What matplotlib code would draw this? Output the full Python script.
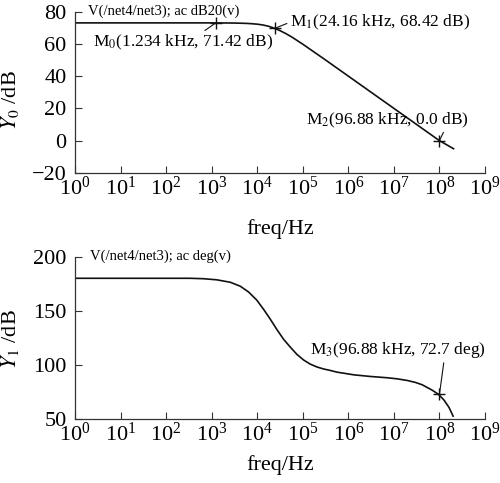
import numpy as np
import matplotlib
matplotlib.use("Agg")
import matplotlib.pyplot as plt
from matplotlib.ticker import LogFormatterMathtext, FixedLocator

# =====================================
# Data
# =====================================

# magnitude curve : decade exponent of freq, gain in dB
mag_exp = [0, 1, 2, 3, 3.5, 3.75, 3.875, 4.0, 4.125, 4.25, 4.375, 4.5,
           4.625, 4.75, 4.875, 5.0, 5.25, 5.5, 5.75, 6.0, 6.5, 7.0, 7.5,
           8.0, 8.31]
gain_db = [73.0, 73.0, 73.0, 73.0, 72.9, 72.7, 72.5, 72.2, 71.7, 70.9,
           69.7, 68.2, 66.4, 64.4, 62.1, 59.8, 54.9, 50.0, 45.0, 40.0,
           30.0, 20.0, 10.0, 0.0, -5.0]

# phase curve : decade exponent of freq, phase in deg
ph_exp = [0, 1, 2, 2.53, 2.82, 3.11, 3.41, 3.63, 3.81, 3.99, 4.14, 4.29,
          4.43, 4.58, 4.73, 4.87, 5.02, 5.16, 5.31, 5.46, 5.60, 5.75,
          6.12, 6.48, 6.85, 7.07, 7.29, 7.47, 7.62, 7.73, 7.84, 7.98,
          8.10, 8.21, 8.30]
phase_deg = [180.0, 180.0, 180.0, 180.0, 179.6, 178.6, 176.3, 172.6,
             167.3, 159.8, 151.2, 141.9, 132.6, 123.4, 116.0, 109.5,
             104.2, 100.5, 97.8, 95.9, 94.6, 93.0, 90.5, 89.0, 87.8,
             86.8, 85.3, 83.5, 81.3, 78.8, 76.3, 72.4, 67.1, 60.3, 52.2]

freq_mag = 10.0 ** np.array(mag_exp)
freq_ph = 10.0 ** np.array(ph_exp)

# markers (freq in Hz, value)
m0 = (1234, 73.0)
m1 = (24160, 69.6)
m2 = (1e8, 0.0)
m3 = (1e8, 72.4)

m_labels = [r"M$_0$(1.234 kHz, 71.42 dB)",
            r"M$_1$(24.16 kHz, 68.42 dB)",
            r"M$_2$(96.88 kHz, 0.0 dB)",
            r"M$_3$(96.88 kHz, 72.7 deg)"]

top_title = "V(/net4/net3); ac dB20(v)"
bot_title = "V(/net4/net3); ac deg(v)"

x_ticks = [10.0 ** k for k in range(10)]
y_ticks_top = [-20, 0, 20, 40, 60, 80]
y_ticks_bot = [50, 100, 150, 200]

# =====================================
# Style
# =====================================

plt.rcParams["font.family"] = ["Liberation Serif", "DejaVu Serif"]
plt.rcParams["mathtext.fontset"] = "stix"
plt.rcParams["axes.unicode_minus"] = True

line_c = "#111111"
spine_c = "#333333"

fig = plt.figure(figsize=(5.0, 4.83), dpi=100)
ax1 = fig.add_axes([0.150, 0.642, 0.820, 0.334])
ax2 = fig.add_axes([0.150, 0.1335, 0.820, 0.335])


def style_axes(ax, yticks, ylim):
    ax.set_xscale("log")
    ax.set_xlim(1e0, 1e9)
    ax.set_ylim(*ylim)
    ax.xaxis.set_major_locator(FixedLocator(x_ticks))
    ax.xaxis.set_minor_locator(FixedLocator([]))
    ax.xaxis.set_major_formatter(LogFormatterMathtext())
    ax.set_yticks(yticks)
    for s in ["top", "right"]:
        ax.spines[s].set_visible(False)
    for s in ["left", "bottom"]:
        ax.spines[s].set_color(spine_c)
        ax.spines[s].set_linewidth(0.9)
    ax.tick_params(axis="both", direction="in", length=5, width=0.8,
                   color=spine_c, labelsize=16)
    ax.tick_params(axis="x", pad=3)
    ax.tick_params(axis="y", pad=6)


def marker_note(ax, xy, label, offset, relpos):
    ax.annotate(label, xy=xy, xytext=offset, textcoords="offset points",
                fontsize=12.5, ha="left", va="center",
                arrowprops=dict(arrowstyle="-", color=line_c, lw=0.8,
                                relpos=relpos, shrinkA=0, shrinkB=0))


# =====================================
# Top : magnitude
# =====================================

style_axes(ax1, y_ticks_top, (-20, 80))
ax1.plot(freq_mag, gain_db, color=line_c, lw=1.2)
ax1.text(0.032, 1.0, top_title, transform=ax1.transAxes,
         fontsize=10.5, va="center", ha="left")

mx = [m0[0], m1[0], m2[0]]
my = [m0[1], m1[1], m2[1]]
ax1.plot(mx, my, ls="none", marker="+", ms=8, mew=1.0, color=line_c)

marker_note(ax1, m0, m_labels[0], (-88.6, -14.4), (0.6, 1.0))
marker_note(ax1, m1, m_labels[1], (10.8, 4.3), (0.0, 0.5))
marker_note(ax1, m2, m_labels[2], (-95.8, 14.9), (0.85, 0.0))

ax1.set_ylabel(r"$\mathit{Y}_0$ /dB", fontsize=16)
ax1.yaxis.set_label_coords(-0.131, 0.453)
ax1.set_xlabel("freq/Hz", fontsize=16)
ax1.xaxis.set_label_coords(0.5, -0.285)

# =====================================
# Bottom : phase
# =====================================

style_axes(ax2, y_ticks_bot, (50, 200))
ax2.plot(freq_ph, phase_deg, color=line_c, lw=1.2)
ax2.text(0.036, 1.0, bot_title, transform=ax2.transAxes,
         fontsize=10.5, va="center", ha="left")

ax2.plot([m3[0]], [m3[1]], ls="none", marker="+", ms=8, mew=1.0,
         color=line_c)
marker_note(ax2, m3, m_labels[3], (-92.9, 31.9), (0.76, 0.0))

ax2.set_ylabel(r"$\mathit{Y}_1$ /dB", fontsize=16)
ax2.yaxis.set_label_coords(-0.131, 0.49)
ax2.set_xlabel("freq/Hz", fontsize=16)
ax2.xaxis.set_label_coords(0.5, -0.228)

fig.savefig("out.png", dpi=100)
